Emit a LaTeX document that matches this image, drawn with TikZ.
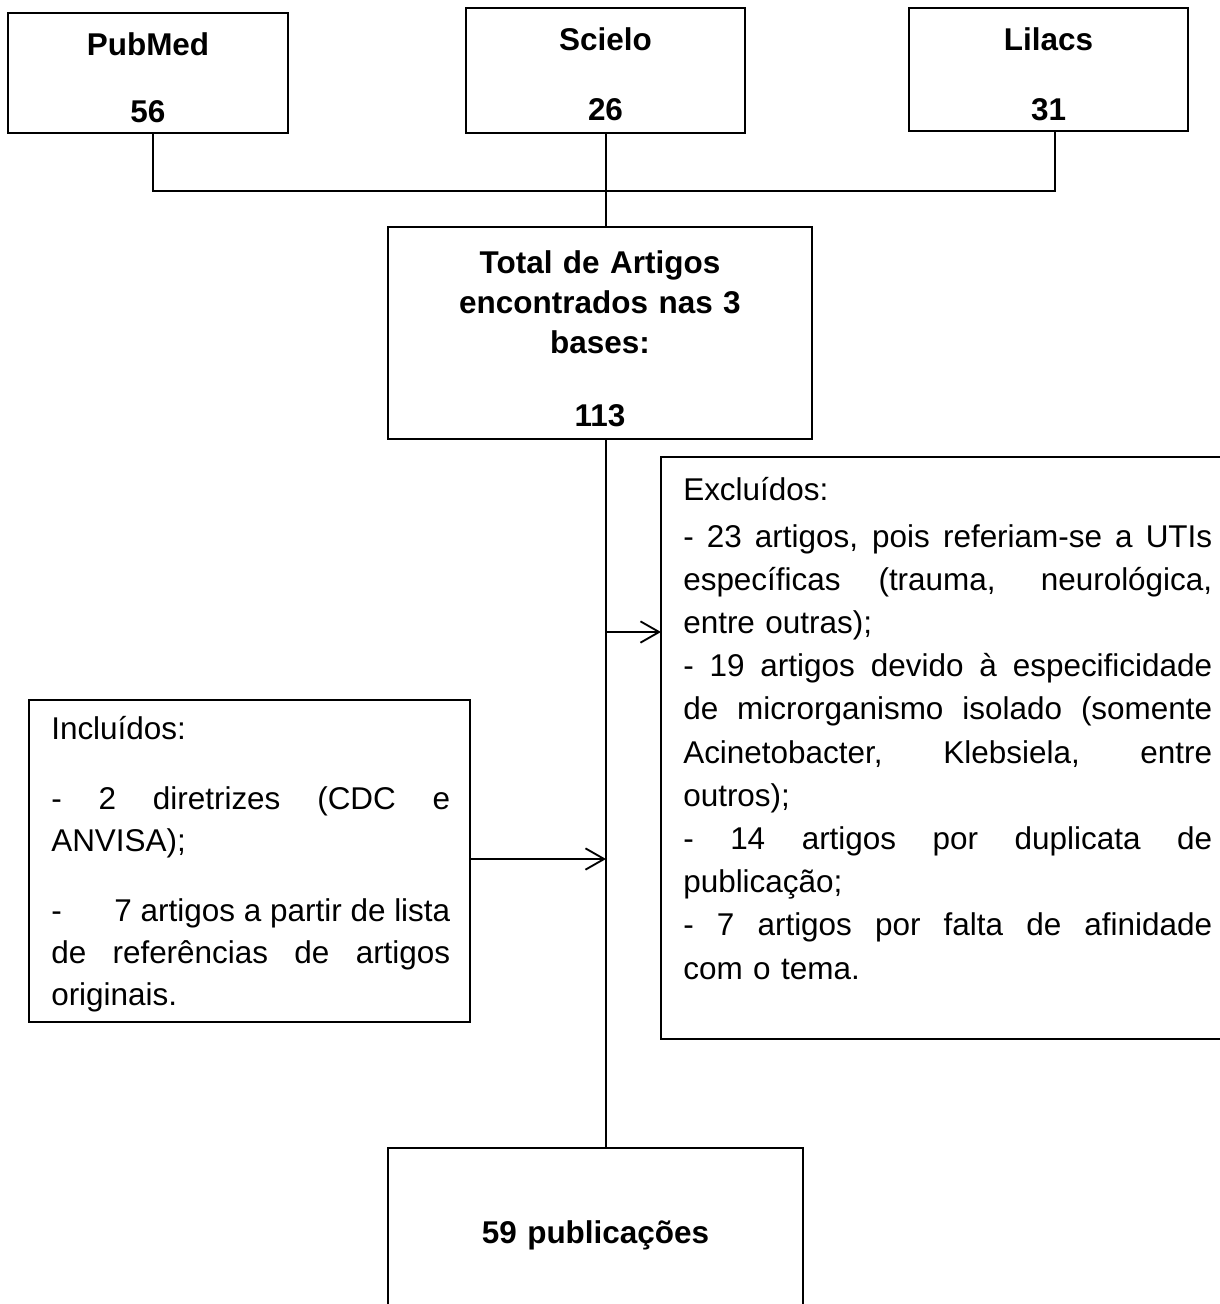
\documentclass[tikz,border=0pt]{standalone}
\usepackage{fontspec}
\setmainfont{Liberation Sans}
\usetikzlibrary{arrows.meta}
\newcommand{\jl}[1]{\makebox[\linewidth][s]{\spaceskip=\fontdimen2\font plus 1fil\relax #1}}
\begin{document}
\begin{tikzpicture}[x=0.75pt,y=-0.75pt,
  box/.style={draw, line width=1.4pt, inner sep=0pt, outer sep=0pt, anchor=north west},
  conn/.style={line width=1.4pt},
  arr/.style={conn, -{Straight Barb[length=14pt,width=16pt,line width=1.4pt]}},
  btxt/.style={font=\bfseries\fontsize{23.6}{30}\selectfont, align=center, inner sep=0pt, anchor=base},
  rtxt/.style={font=\fontsize{23.6}{32.4}\selectfont, align=left, inner sep=0pt, anchor=base west}]
\useasboundingbox (0,0) rectangle (1220,1304);
\clip (0,0) rectangle (1220,1304);
\fill[white] (0,0) rectangle (1220,1304);
% boxes
\node[box, minimum width=210pt, minimum height=90pt] (pub) at (8,13) {};
\node[box, minimum width=209.25pt, minimum height=93.75pt] (sci) at (466,8) {};
\node[box, minimum width=209.25pt, minimum height=92.25pt] (lil) at (909,8) {};
\node[box, minimum width=318pt, minimum height=159pt] (tot) at (388,227) {};
\node[box, minimum width=330.75pt, minimum height=241.5pt] (inc) at (29,700) {};
\node[box, minimum width=434.25pt, minimum height=436.5pt] (exc) at (661,457) {};
\node[box, minimum width=311.25pt, minimum height=136.5pt] (res) at (388,1148) {};
% texts
\node[btxt, text width=200pt] (pubT) at (148,55) {PubMed\\[20.25pt]56};
\node[btxt, text width=200pt] (sciT) at (605.5,50) {Scielo\\[22.5pt]26};
\node[btxt, text width=200pt] (lilT) at (1048.5,50) {Lilacs\\[22.5pt]31};
\node[btxt, text width=300pt] (totT) at (600,273) {Total de Artigos\\encontrados nas 3\\bases:\\[24.75pt]113};
\node[btxt, text width=300pt] (resT) at (595.5,1243) {59 publicações};
\node[rtxt, text width=299.25pt, font=\fontsize{23.6}{31.5}\selectfont] (incT) at (51,739) {Incluídos:\\[21pt]
\jl{- 2 diretrizes (CDC e}\\
ANVISA);\\[21pt]
\jl{-\hskip 0pt plus 1fill 7 artigos a partir de lista}\\
\jl{de referências de artigos}\\
originais.};
\node[rtxt, text width=396.75pt] (excT) at (683,500) {Excluídos:\\[2.85pt]
\jl{- 23 artigos, pois referiam-se a UTIs}\\
\jl{específicas (trauma, neurológica,}\\
entre outras);\\
\jl{- 19 artigos devido à especificidade}\\
\jl{de microrganismo isolado (somente}\\
\jl{Acinetobacter, Klebsiela, entre}\\
outros);\\
\jl{- 14 artigos por duplicata de}\\
publicação;\\
\jl{- 7 artigos por falta de afinidade}\\
com o tema.};
% connectors
\coordinate (jp) at (153,191);
\coordinate (jl) at (1055,191);
\coordinate (vx) at (606,0);
\coordinate (a1) at (606,632);
\coordinate (a2) at (606,859);
\draw[conn] (jp |- pub.south) -- (jp) -- (jl) -- (jl |- lil.south);
\draw[conn] (vx |- sci.south) -- (vx |- tot.north);
\draw[conn] (vx |- tot.south) -- (vx |- res.north);
\draw[arr] (a1) -- (a1 -| exc.west);
\draw[arr] (a2 -| inc.east) -- (a2);
\end{tikzpicture}
\end{document}
